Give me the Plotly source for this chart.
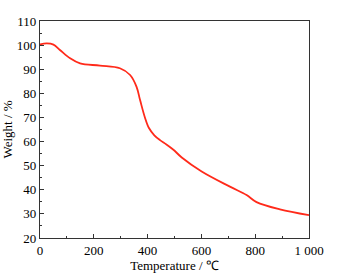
import plotly.graph_objects as go

temperature = [0, 25, 50, 74, 112, 149, 223, 297, 335, 359, 372, 390, 405, 425, 446, 470, 496, 527, 601, 706, 768, 805, 892, 1000]
weight = [100.3, 100.7, 100.2, 98.0, 94.5, 92.4, 91.5, 90.4, 87.6, 82.7, 77.2, 70.0, 65.6, 62.6, 60.6, 58.8, 56.6, 53.4, 47.6, 41.3, 37.8, 34.9, 31.9, 29.5]

x_ticks = [0, 200, 400, 600, 800, 1000]
x_tick_labels = ["0", "200", "400", "600", "800", "1 000"]
y_ticks = [20, 30, 40, 50, 60, 70, 80, 90, 100, 110]

font = dict(family="Liberation Serif, Times New Roman, serif", size=13, color="black")

fig = go.Figure()
fig.add_trace(go.Scatter(x=temperature, y=weight, mode="lines",
                         line=dict(color="#ff2a1a", width=1.8, shape="spline", smoothing=1.0),
                         showlegend=False))

axis_common = dict(showgrid=False, zeroline=False, showline=True, linecolor="#333",
                   linewidth=1.2, ticks="inside", ticklen=4, tickcolor="#333", mirror=True,
                   tickfont=font, automargin=False)

fig.update_xaxes(range=[0, 1000], tickvals=x_ticks, ticktext=x_tick_labels,
                 minor=dict(ticks="inside", ticklen=2, dtick=100, tickcolor="#333"),
                 title=dict(text="Temperature / ℃", font=font, standoff=4), **axis_common)
fig.update_yaxes(range=[20, 110], tickvals=y_ticks,
                 minor=dict(ticks="inside", ticklen=2, dtick=5, tickcolor="#333"),
                 title=dict(text="Weight / %", font=font, standoff=4), **axis_common)

fig.update_layout(width=339, height=279, margin=dict(l=40, r=30, t=21, b=41),
                  plot_bgcolor="white", paper_bgcolor="white", font=font)

fig.write_html("out.html", config={"displayModeBar": False},
               post_script="document.body.style.margin='0';")
